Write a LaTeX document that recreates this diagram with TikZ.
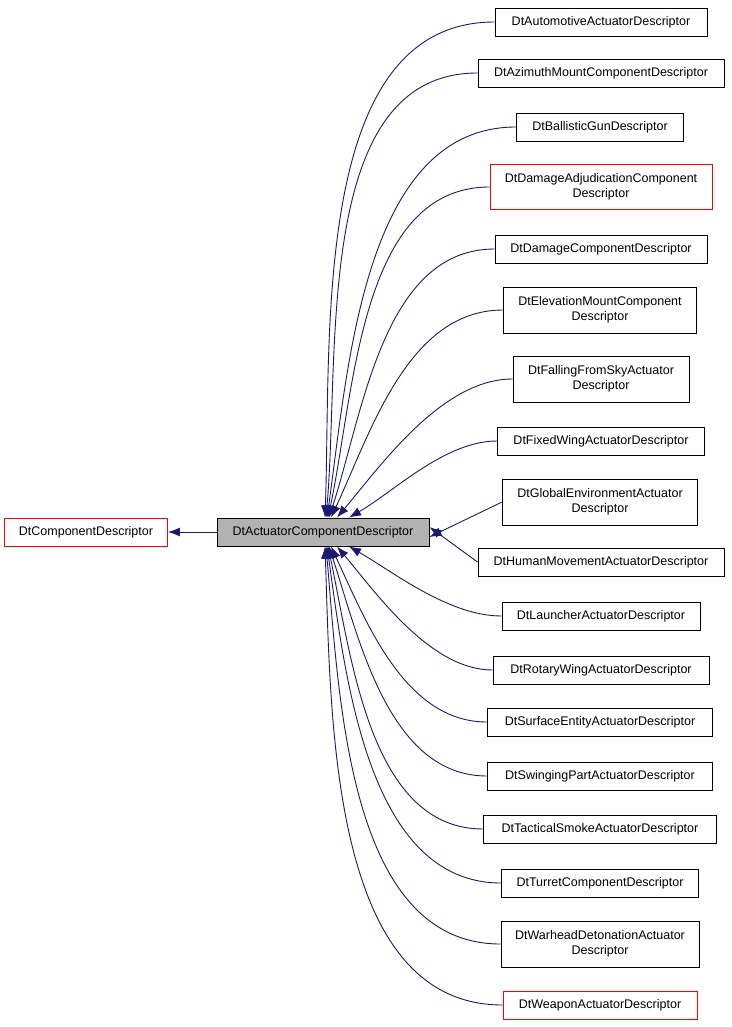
\documentclass[tikz,border=0pt]{standalone}
\usepackage{fontspec}
\setmainfont{Liberation Sans}
\usetikzlibrary{arrows.meta}
\definecolor{edgeblue}{RGB}{25,25,112}
\begin{document}
\begin{tikzpicture}[x=1pt,y=-1pt,
  box/.style={draw=black,fill=white,line width=0.9pt,font=\fontsize{12.5}{14.5}\selectfont,align=center,inner sep=0pt,minimum height=28pt},
  redbox/.style={box,draw=red},
  edge/.style={draw=edgeblue,line width=0.9pt,{Latex[length=12pt,width=9pt]}-}]
\useasboundingbox (0,0) rectangle (731,1027);
\node[redbox,minimum width=163pt] (cd) at (86,532) {DtComponentDescriptor};
\node[box,fill=gray!60,minimum width=212pt] (act) at (323,532) {DtActuatorComponentDescriptor};
\node[box,minimum width=212pt] (n1) at (601,22) {DtAutomotiveActuatorDescriptor};
\node[box,minimum width=246pt] (n2) at (601,73) {DtAzimuthMountComponentDescriptor};
\node[box,minimum width=167pt] (n3) at (600,127) {DtBallisticGunDescriptor};
\node[redbox,minimum width=222pt,minimum height=45pt] (n4) at (601,187) {DtDamageAdjudicationComponent\\Descriptor};
\node[box,minimum width=212pt] (n5) at (601,249) {DtDamageComponentDescriptor};
\node[box,minimum width=193pt,minimum height=46pt] (n6) at (600,310) {DtElevationMountComponent\\Descriptor};
\node[box,minimum width=176pt,minimum height=46pt] (n7) at (601,379) {DtFallingFromSkyActuator\\Descriptor};
\node[box,minimum width=207pt] (n8) at (601,441) {DtFixedWingActuatorDescriptor};
\node[box,minimum width=195pt,minimum height=46pt] (n9) at (600,502) {DtGlobalEnvironmentActuator\\Descriptor};
\node[box,minimum width=246pt] (n10) at (601,562) {DtHumanMovementActuatorDescriptor};
\node[box,minimum width=198pt] (n11) at (601,616) {DtLauncherActuatorDescriptor};
\node[box,minimum width=216pt] (n12) at (601,670) {DtRotaryWingActuatorDescriptor};
\node[box,minimum width=225pt] (n13) at (600,722) {DtSurfaceEntityActuatorDescriptor};
\node[box,minimum width=225pt] (n14) at (600,776) {DtSwingingPartActuatorDescriptor};
\node[box,minimum width=233pt] (n15) at (600,829) {DtTacticalSmokeActuatorDescriptor};
\node[box,minimum width=197pt] (n16) at (600,883) {DtTurretComponentDescriptor};
\node[box,minimum width=198pt,minimum height=46pt] (n17) at (600,944) {DtWarheadDetonationActuator\\Descriptor};
\node[redbox,minimum width=194pt] (n18) at (600,1005) {DtWeaponActuatorDescriptor};
\draw[edge] (cd) -- (act);
\draw[edge] ([xshift=2pt]act.north) to[out=88,in=180,looseness=0.9] (n1.west);
\draw[edge] ([xshift=3pt]act.north) to[out=85,in=180,looseness=0.9] (n2.west);
\draw[edge] ([xshift=4pt]act.north) to[out=82,in=180,looseness=0.9] (n3.west);
\draw[edge] ([xshift=5pt]act.north) to[out=78,in=180,looseness=0.9] (n4.west);
\draw[edge] ([xshift=6pt]act.north) to[out=72,in=180,looseness=0.9] (n5.west);
\draw[edge] ([xshift=8pt]act.north) to[out=65,in=180,looseness=0.9] (n6.west);
\draw[edge] ([xshift=14pt]act.north) to[out=50,in=180,looseness=0.8] (n7.west);
\draw[edge] ([xshift=26pt]act.north) to[out=30,in=180,looseness=0.8] (n8.west);
\draw[edge] ([yshift=-5pt]act.east) -- (n9.west);
\draw[edge] ([yshift=5pt]act.east) -- (n10.west);
\draw[edge] ([xshift=26pt]act.south) to[out=-30,in=180,looseness=0.8] (n11.west);
\draw[edge] ([xshift=14pt]act.south) to[out=-50,in=180,looseness=0.8] (n12.west);
\draw[edge] ([xshift=8pt]act.south) to[out=-65,in=180,looseness=0.9] (n13.west);
\draw[edge] ([xshift=6pt]act.south) to[out=-72,in=180,looseness=0.9] (n14.west);
\draw[edge] ([xshift=5pt]act.south) to[out=-78,in=180,looseness=0.9] (n15.west);
\draw[edge] ([xshift=4pt]act.south) to[out=-82,in=180,looseness=0.9] (n16.west);
\draw[edge] ([xshift=3pt]act.south) to[out=-85,in=180,looseness=0.9] (n17.west);
\draw[edge] ([xshift=2pt]act.south) to[out=-88,in=180,looseness=0.9] (n18.west);
\end{tikzpicture}
\end{document}
